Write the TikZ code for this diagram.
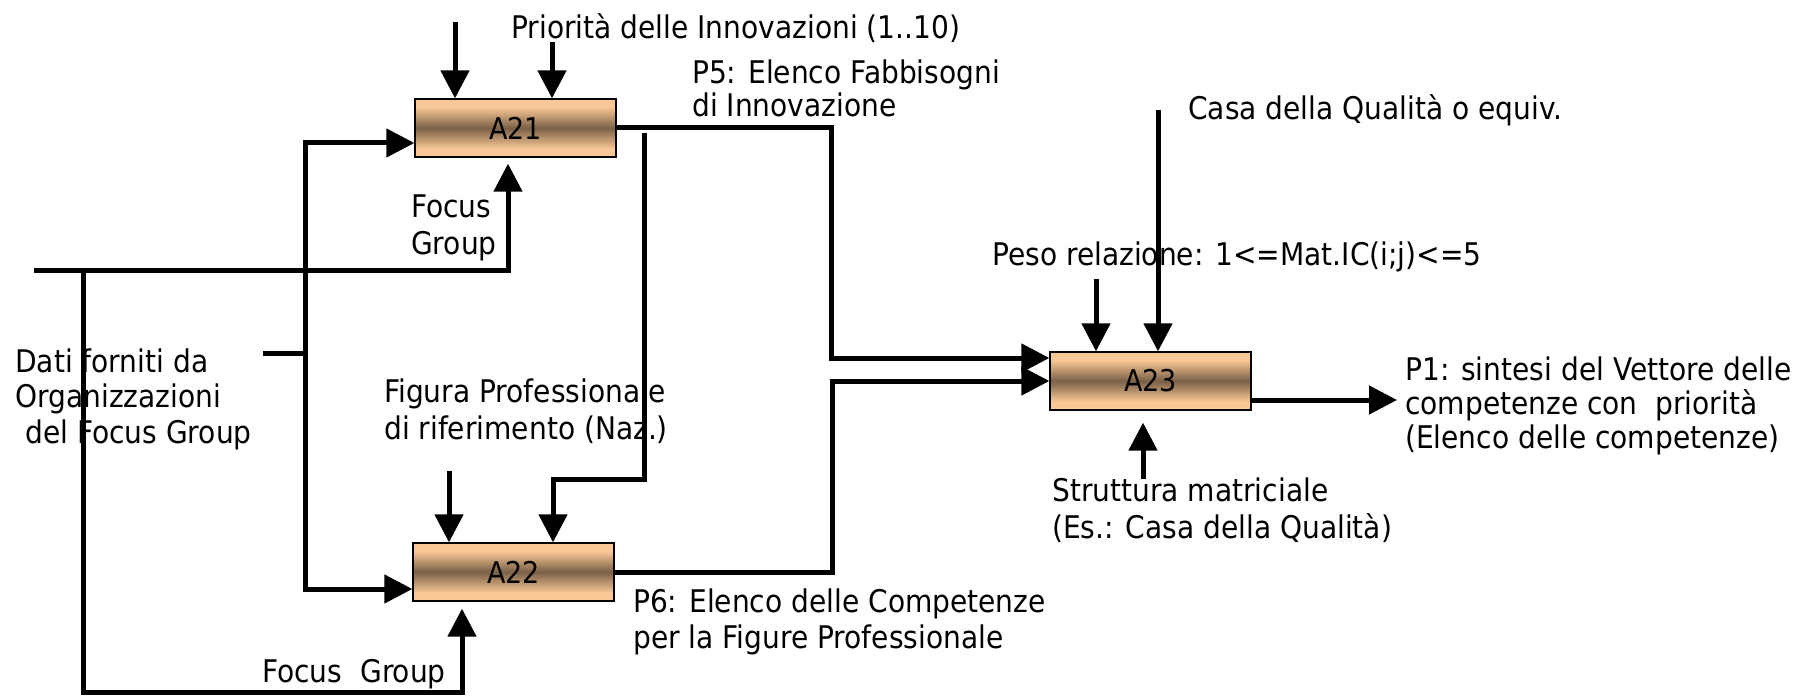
\documentclass[tikz,border=0pt]{standalone}
\usepackage{fontspec}
\setmainfont{DejaVu Sans}[FakeStretch=0.9]
\usetikzlibrary{arrows.meta,calc}
\definecolor{pch}{RGB}{250,200,150}
\definecolor{brn}{RGB}{122,96,70}
\pgfdeclareverticalshading{boxshade}{100bp}{color(0bp)=(pch); color(25bp)=(pch); color(32bp)=(pch); color(50bp)=(brn); color(68bp)=(pch); color(75bp)=(pch); color(100bp)=(pch)}
\newcommand\fs{\rule{0pt}{27bp}}
\begin{document}
\begin{tikzpicture}[x=1bp,y=-1bp,
  ln/.style={line width=5bp},
  arr/.style={line width=5bp,-{Triangle[length=28bp,width=28bp]}},
  abox/.style={draw=black,line width=1.3bp,minimum width=201bp,minimum height=58bp,inner sep=0pt,shade,shading=boxshade,font=\fontsize{30bp}{30bp}\selectfont},
  lbl/.style={anchor=north west,inner sep=0pt,align=left,font=\fontsize{31.2bp}{#1}\selectfont},
  lbl/.default=35bp]
\useasboundingbox (0,0) rectangle (1798,697);
\fill[white] (0,0) rectangle (1798,697);

% labels
\node[lbl] (tPri) at (511,11) {\fs Priorità delle Innovazioni (1..10)};
\node[lbl=33bp] (tP5) at (692,56) {\fs P5: Elenco Fabbisogni\\di Innovazione};
\node[lbl] (tCasa) at (1188,92) {\fs Casa della Qualità o equiv.};
\node[lbl] (tPeso) at (992,238) {\fs Peso relazione: 1<=Mat.IC(i;j)<=5};
\node[lbl=37bp] (tFG1) at (411,190) {\fs Focus\\Group};
\node[lbl=35.5bp] (tDati) at (15,345) {\fs Dati forniti da\\Organizzazioni\\\hspace*{10bp}del Focus Group};
\node[lbl=37bp] (tFig) at (384,375) {\fs Figura Professionale\\di riferimento (Naz.)};
\node[lbl=37bp] (tStr) at (1052,474) {\fs Struttura matriciale\\(Es.: Casa della Qualità)};
\node[lbl=36bp] (tP6) at (633,585) {\fs P6: Elenco delle Competenze\\per la Figure Professionale};
\node[lbl=34bp] (tP1) at (1405,353) {\fs P1: sintesi del Vettore delle\\competenze con\ \ priorità\\(Elenco delle competenze)};
\node[lbl] (tFG2) at (262,655) {\fs Focus\ \ Group};

% boxes
\node[abox] (A21) at (515.5,128) {A21};
\node[abox] (A22) at (513.5,572) {A22};
\node[abox] (A23) at (1150.5,381) {A23};

% coordinates
\coordinate (a1) at (455,22);
\coordinate (a2) at (552,42);
\coordinate (busT) at (305,143);
\coordinate (busB) at (305,589);
\coordinate (stub) at (263,353);
\coordinate (h0) at (34,270);
\coordinate (fg1) at (508,270);
\coordinate (v0) at (83,270);
\coordinate (v1) at (83,692);
\coordinate (fg2) at (462,692);
\coordinate (p0) at (644,133);
\coordinate (p1) at (644,479);
\coordinate (p2) at (553,479);
\coordinate (f0) at (449,471);
\coordinate (o1) at (831,128);
\coordinate (j1) at (831,358);
\coordinate (o2) at (832,572);
\coordinate (j2) at (832,381);
\coordinate (q0) at (1158,110);
\coordinate (w0) at (1096,279);
\coordinate (s0) at (1143,479);
\coordinate (out) at (1397,400);

% connectors
\draw[arr] (a1) -- (a1 |- A21.north);
\draw[arr] (a2) -- (a2 |- A21.north);
\draw[arr] (busB) -- (busT) -- (busT -| A21.west);
\draw[arr] (busT) -- (busB) -- (busB -| A22.west);
\draw[ln] (stub) -- (stub -| busT);
\draw[arr,shorten >=6bp] (h0) -- (fg1) -- (fg1 |- A21.south);
\draw[arr,shorten >=7bp] (v0) -- (v1) -- (fg2) -- (fg2 |- A22.south);
\draw[arr] (p0) -- (p1) -- (p2) -- (p2 |- A22.north);
\draw[arr] (f0) -- (f0 |- A22.north);
\draw[arr] (A21.east) -- (o1) -- (j1) -- (j1 -| A23.west);
\draw[arr] (A22.east) -- (o2) -- (j2) -- (j2 -| A23.west);
\draw[arr] (q0) -- (q0 |- A23.north);
\draw[arr] (w0) -- (w0 |- A23.north);
\draw[arr,shorten >=12bp] (s0) -- (s0 |- A23.south);
\draw[arr] (out -| A23.east) -- (out);
\end{tikzpicture}
\end{document}
